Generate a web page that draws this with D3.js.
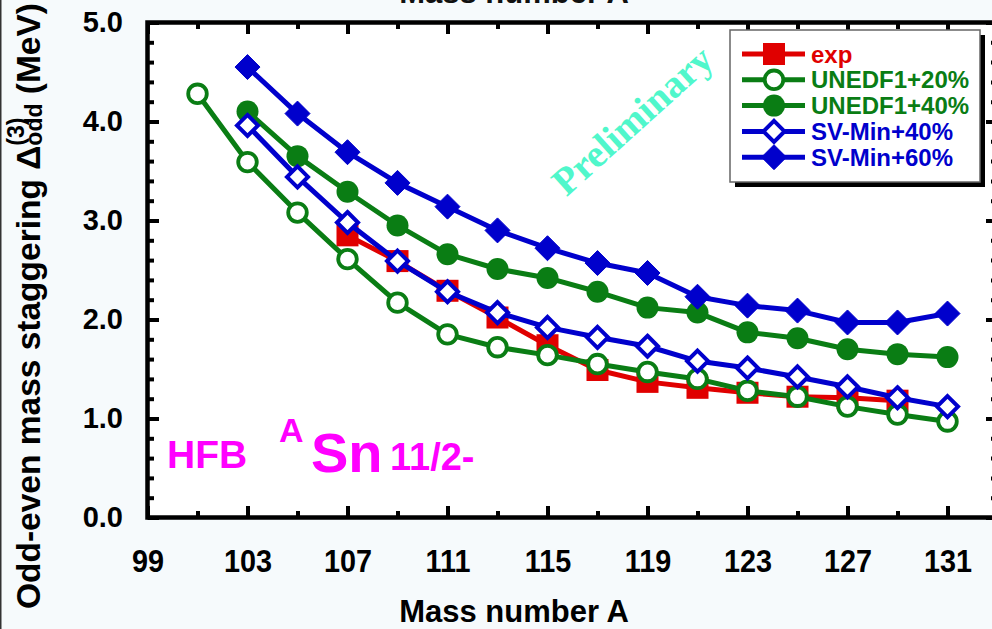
<!DOCTYPE html>
<html>
<head>
<meta charset="utf-8">
<script src="https://cdn.jsdelivr.net/npm/d3@7"></script>
<style>
  html, body { margin: 0; padding: 0; background: #f6fafc; }
  svg { display: block; }
  text { font-family: "Liberation Sans", Arial, Helvetica, sans-serif; font-weight: bold; }
</style>
</head>
<body>
<script>
// ---------------- data ----------------
const massU20 = [101,103,105,107,109,111,113,115,117,119,121,123,125,127,129,131];
const unedf20 = [4.28,3.59,3.08,2.61,2.17,1.85,1.72,1.64,1.55,1.47,1.40,1.28,1.22,1.12,1.04,0.97];
const mass103 = [103,105,107,109,111,113,115,117,119,121,123,125,127,129,131];
const unedf40 = [4.10,3.65,3.29,2.95,2.66,2.51,2.42,2.28,2.12,2.07,1.87,1.81,1.70,1.65,1.62];
const svmin40 = [3.96,3.44,2.98,2.59,2.28,2.07,1.92,1.82,1.73,1.58,1.51,1.42,1.32,1.21,1.12];
const svmin60 = [4.55,4.08,3.69,3.38,3.14,2.90,2.72,2.57,2.47,2.23,2.14,2.09,1.97,1.97,2.06];
const massExp = [107,109,111,113,115,117,119,121,123,125,127,129];
const expVals = [2.85,2.59,2.29,2.02,1.74,1.49,1.37,1.31,1.26,1.22,1.21,1.18];
const xMajorTicks = [99,103,107,111,115,119,123,127,131];
const xMinorTicks = [101,105,109,113,117,121,125,129,133];
const yMajorTicks = [0,1,2,3,4,5];
const yMinorTicks = [0.2,0.4,0.6,0.8,1.2,1.4,1.6,1.8,2.2,2.4,2.6,2.8,3.2,3.4,3.6,3.8,4.2,4.4,4.6,4.8];
const legendLabels = ["exp","UNEDF1+20%","UNEDF1+40%","SV-Min+40%","SV-Min+60%"];

const RED = "#e00000", GREEN = "#0a7d14", BLUE = "#0000cc", MAG = "#ff00ff";

const series = [
  {name: legendLabels[0], xs: massExp, ys: expVals, color: RED, marker: "square", fill: true},
  {name: legendLabels[1], xs: massU20, ys: unedf20, color: GREEN, marker: "circle", fill: false},
  {name: legendLabels[2], xs: mass103, ys: unedf40, color: GREEN, marker: "circle", fill: true},
  {name: legendLabels[3], xs: mass103, ys: svmin40, color: BLUE, marker: "diamond", fill: false},
  {name: legendLabels[4], xs: mass103, ys: svmin60, color: BLUE, marker: "diamond", fill: true}
];

// ---------------- layout ----------------
const W = 992, H = 629;
const x = d3.scaleLinear().domain([99, 133]).range([147.5, 997.5]);
const y = d3.scaleLinear().domain([0, 5]).range([517.5, 22.5]);

const svg = d3.select("body").append("svg").attr("width", W).attr("height", H);
svg.append("rect").attr("width", W).attr("height", H).attr("fill", "#f6fafc");
svg.append("line").attr("x1", 0.75).attr("x2", 0.75).attr("y1", 0).attr("y2", H)
   .attr("stroke", "#333").attr("stroke-width", 1.5);

// plot background
svg.append("rect").attr("x", x(99)).attr("y", y(5))
   .attr("width", x(133) - x(99)).attr("height", y(0) - y(5)).attr("fill", "#fff");

// cut-off duplicate title on top (as in the reference)
svg.append("text").attr("x", 514).attr("y", 3).attr("text-anchor", "middle")
   .attr("font-size", 31).attr("fill", "#111").text("Mass number A");

function styleAxis(g) {
  g.select(".domain").remove();
  g.selectAll(".tick line").attr("stroke", "#000").attr("stroke-width", 4);
}

// bottom axis
const gB = svg.append("g").attr("transform", `translate(0,${y(0)})`)
  .call(d3.axisBottom(x).tickValues(xMajorTicks).tickSize(-11.5).tickPadding(32).tickFormat(d3.format("d")));
styleAxis(gB);
gB.selectAll("text").attr("font-size", 32).attr("fill", "#000").attr("transform", "scale(0.9,1)");
const gBm = svg.append("g").attr("transform", `translate(0,${y(0)})`)
  .call(d3.axisBottom(x).tickValues(xMinorTicks).tickSize(-6.5).tickFormat(""));
styleAxis(gBm);
// top axis
const gT = svg.append("g").attr("transform", `translate(0,${y(5)})`)
  .call(d3.axisTop(x).tickValues(xMajorTicks).tickSize(-11.5).tickFormat(""));
styleAxis(gT);
const gTm = svg.append("g").attr("transform", `translate(0,${y(5)})`)
  .call(d3.axisTop(x).tickValues(xMinorTicks).tickSize(-6.5).tickFormat(""));
styleAxis(gTm);
// left axis
const gL = svg.append("g").attr("transform", `translate(${x(99)},0)`)
  .call(d3.axisLeft(y).tickValues(yMajorTicks).tickSize(-11.5).tickPadding(24.5).tickFormat(d3.format(".1f")));
styleAxis(gL);
gL.selectAll("text").attr("font-size", 29).attr("fill", "#000");
const gLm = svg.append("g").attr("transform", `translate(${x(99)},0)`)
  .call(d3.axisLeft(y).tickValues(yMinorTicks).tickSize(-6.5).tickFormat(""));
styleAxis(gLm);
// right axis
const gR = svg.append("g").attr("transform", `translate(${x(133)},0)`)
  .call(d3.axisRight(y).tickValues(yMajorTicks).tickSize(-11.5).tickFormat(""));
styleAxis(gR);
const gRm = svg.append("g").attr("transform", `translate(${x(133)},0)`)
  .call(d3.axisRight(y).tickValues(yMinorTicks).tickSize(-6.5).tickFormat(""));
styleAxis(gRm);

// frame
svg.append("rect").attr("x", x(99)).attr("y", y(5))
   .attr("width", x(133) - x(99)).attr("height", y(0) - y(5))
   .attr("fill", "none").attr("stroke", "#000").attr("stroke-width", 4.5);

// axis titles
svg.append("text").attr("x", 514).attr("y", 622).attr("text-anchor", "middle")
   .attr("font-size", 31).attr("fill", "#000").text("Mass number A");

const yt = svg.append("text").attr("transform", "translate(40,3) rotate(-90)")
   .attr("text-anchor", "end").attr("font-size", 33.5).attr("fill", "#000");
yt.append("tspan").text("Odd-even mass staggering \u0394");
const sup = yt.append("tspan").attr("font-size", 23).attr("dy", -16).text("(3)");
const supW = sup.node().getComputedTextLength();
yt.append("tspan").attr("font-size", 23).attr("dx", -supW).attr("dy", 18).text("odd");
yt.append("tspan").attr("dy", -2).text(" (MeV)");

// Preliminary watermark
svg.append("text").attr("transform", "translate(632,120) rotate(-42)")
   .attr("text-anchor", "middle").attr("dominant-baseline", "central")
   .style("font-family", "'Liberation Serif', 'Times New Roman', serif").style("font-weight", "bold")
   .attr("font-size", 39).attr("fill", "#50f7cb").text("Preliminary");

// annotation
svg.append("text").attr("x", 167).attr("y", 468).attr("font-size", 39).attr("fill", MAG).text("HFB");
svg.append("text").attr("x", 279).attr("y", 442).attr("font-size", 34).attr("fill", MAG).text("A");
svg.append("text").attr("x", 311).attr("y", 472).attr("font-size", 56).attr("fill", MAG).text("Sn");
svg.append("text").attr("x", 390).attr("y", 470).attr("font-size", 38).attr("fill", MAG).text("11/2-");

// markers
function drawMarker(g, s, cx, cy) {
  if (s.marker === "square") {
    g.append("rect").attr("x", cx - 11).attr("y", cy - 11)
     .attr("width", 22).attr("height", 22).attr("fill", s.color);
  } else if (s.marker === "circle") {
    g.append("circle").attr("cx", cx).attr("cy", cy).attr("r", s.fill ? 11 : 9.3)
     .attr("fill", s.fill ? s.color : "#fff")
     .attr("stroke", s.fill ? "none" : s.color).attr("stroke-width", 3.8);
  } else {
    const r = s.fill ? 12.5 : 10.5;
    g.append("path").attr("d", `M${cx},${cy - r}L${cx + r},${cy}L${cx},${cy + r}L${cx - r},${cy}Z`)
     .attr("fill", s.fill ? s.color : "#fff")
     .attr("stroke", s.color).attr("stroke-width", s.fill ? 1 : 4).attr("stroke-linejoin", "miter");
  }
}

const line = d3.line().x(d => x(d[0])).y(d => y(d[1]));
series.forEach(s => {
  const pts = s.xs.map((m, i) => [m, s.ys[i]]);
  const g = svg.append("g");
  g.append("path").attr("d", line(pts)).attr("fill", "none")
   .attr("stroke", s.color).attr("stroke-width", 5).attr("stroke-linejoin", "round");
  pts.forEach(p => drawMarker(g, s, x(p[0]), y(p[1])));
});

// legend
const lg = svg.append("g");
lg.append("rect").attr("x", 735).attr("y", 35).attr("width", 250).attr("height", 152).attr("fill", "#000");
lg.append("rect").attr("x", 730).attr("y", 30).attr("width", 250).attr("height", 152)
  .attr("fill", "#fff").attr("stroke", "#666").attr("stroke-width", 1.5);
series.forEach((s, i) => {
  const cy = 54 + i * 25.8;
  lg.append("line").attr("x1", 742).attr("x2", 805).attr("y1", cy).attr("y2", cy)
    .attr("stroke", s.color).attr("stroke-width", 5);
  drawMarker(lg, s, 774, cy);
  lg.append("text").attr("x", 811).attr("y", cy).attr("dy", "0.36em")
    .attr("font-size", 24).attr("fill", s.color).text(s.name);
});
</script>
</body>
</html>
